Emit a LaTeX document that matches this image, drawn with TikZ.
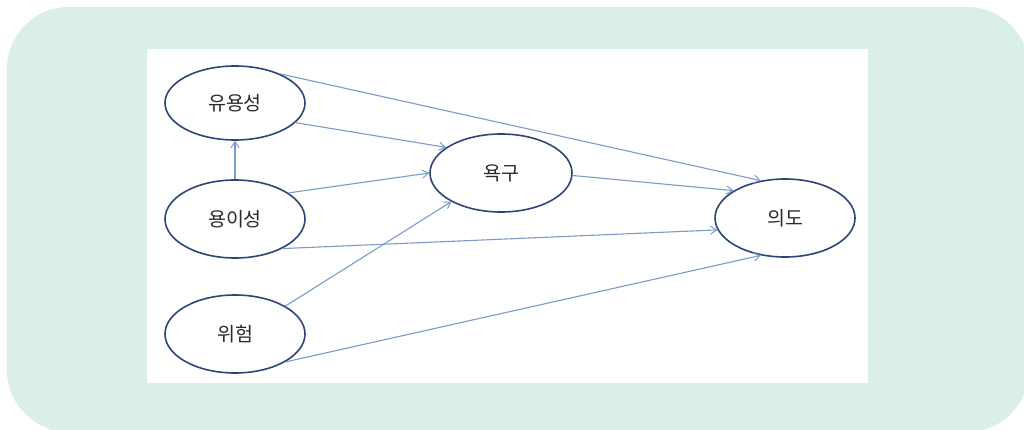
\documentclass[tikz,border=0pt]{standalone}
\usepackage{fontspec}
\newfontfamily\kr{Noto Sans CJK KR}
\usetikzlibrary{shapes.geometric,arrows.meta}
\definecolor{mint}{HTML}{DAEFE9}
\definecolor{navy}{HTML}{2E4677}
\definecolor{edgeblue}{HTML}{7B9CC8}
\definecolor{txt}{HTML}{2A2A2A}
\tikzset{
  var/.style={ellipse,draw=navy,line width=1.6pt,fill=white,minimum width=140pt,minimum height=78pt,inner sep=0pt,text=txt,font=\kr\fontsize{19.5}{22}\selectfont},
  link/.style={draw=edgeblue,line width=1.1pt,-{Straight Barb[length=6pt,width=8pt,line width=1pt]}}
}
\begin{document}
\begin{tikzpicture}[x=1pt,y=-1pt]
\useasboundingbox (0,0) rectangle (1024,430);
\fill[white] (0,0) rectangle (1024,430);
\fill[mint,rounded corners=62pt] (7,7) rectangle (1029,432);
\fill[white] (147,49) rectangle (868,383);
\node[var,minimum height=74pt] (u) at (235,103) {유용성};
\node[var] (e) at (235,219) {용이성};
\node[var] (r) at (235,334) {위험};
\node[var,minimum width=142pt] (n) at (501,173) {욕구};
\node[var] (i) at (785,218) {의도};
\draw[link] (u.33) -- (i.123);
\draw[link] (u.-18) -- (n.155);
\draw[link] (n.-2) -- (i.152);
\draw[link] (e.north) -- (u.south);
\draw[link] (e.26) -- (n.180);
\draw[link] (e.-32) -- (i.190);
\draw[link] (r.29) -- (n.210);
\draw[link] (r.-29) -- (i.237);
\end{tikzpicture}
\end{document}
